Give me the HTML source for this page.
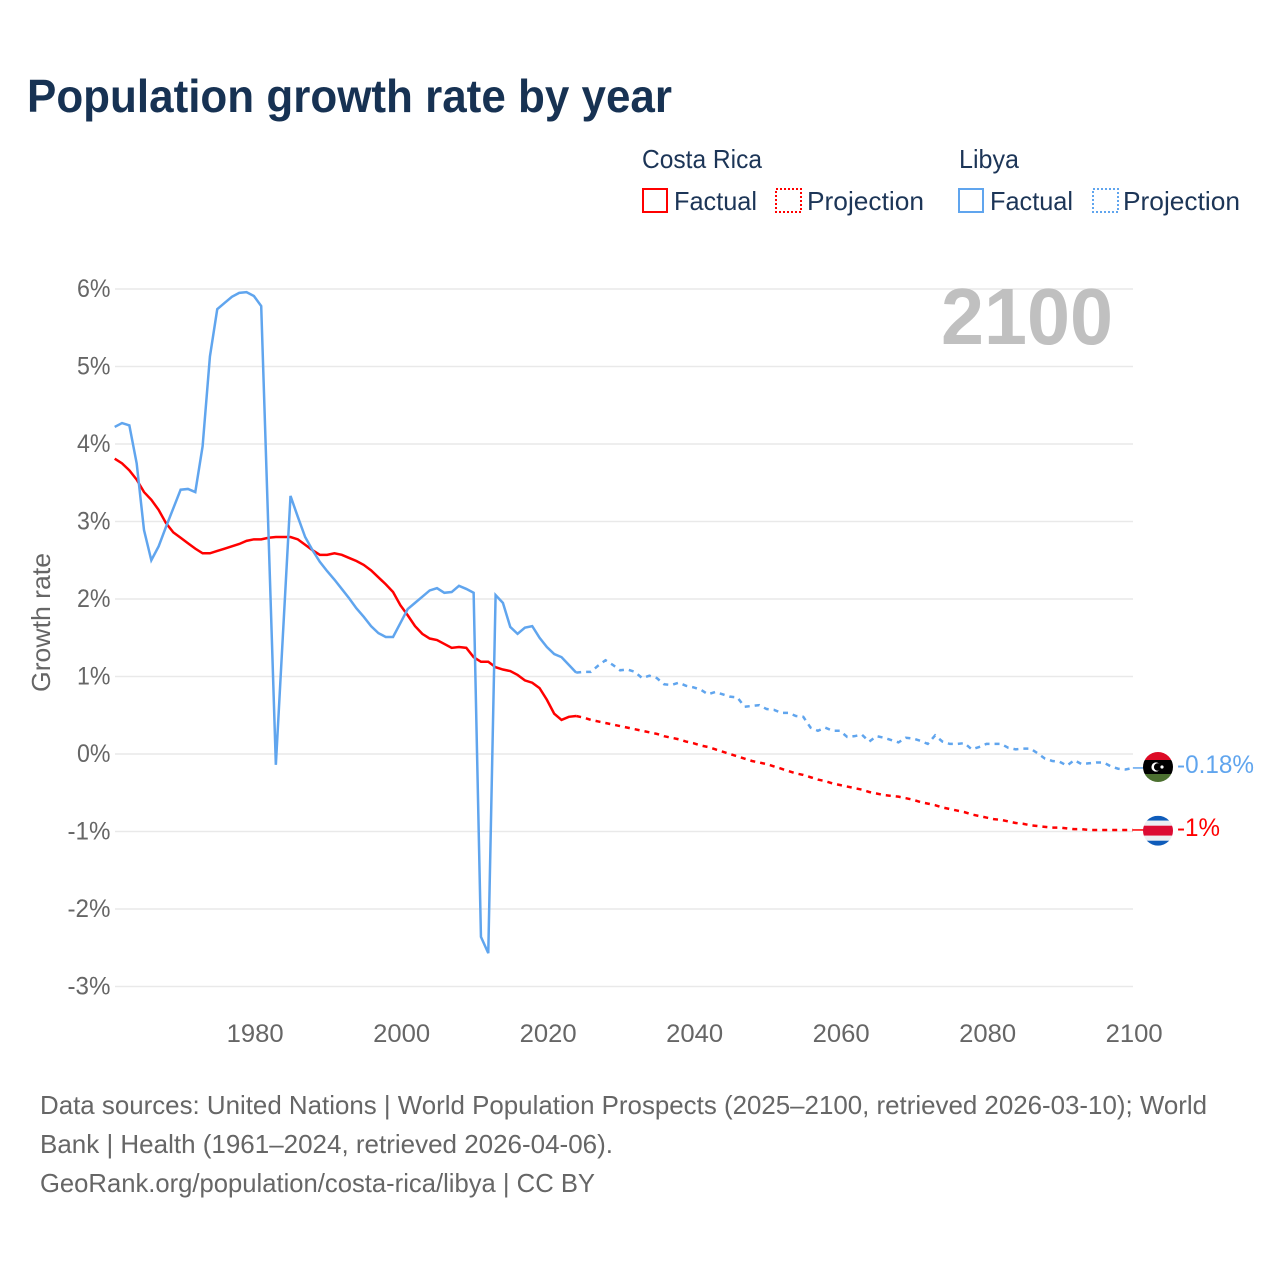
<!DOCTYPE html>
<html lang="en">
<head>
<meta charset="utf-8">
<title>Population growth rate by year</title>
<style>
html,body{margin:0;padding:0;background:#fff;}
svg{display:block;font-family:"Liberation Sans",sans-serif;}
</style>
</head>
<body>
<svg id="chart" width="1280" height="1280" viewBox="0 0 1280 1280" xmlns="http://www.w3.org/2000/svg">
  <rect width="1280" height="1280" fill="#fff"/>
  <text x="27" y="112" font-size="46" font-weight="700" fill="#173253" textLength="645" lengthAdjust="spacingAndGlyphs">Population growth rate by year</text>

  <g font-size="26" fill="#1c3557">
    <text x="642" y="168" textLength="120" lengthAdjust="spacingAndGlyphs">Costa Rica</text>
    <text x="959" y="168" textLength="60" lengthAdjust="spacingAndGlyphs">Libya</text>
    <g>
      <rect x="643" y="189" width="24" height="23" fill="none" stroke="#ff0000" stroke-width="2"/>
      <text x="674" y="210" textLength="83" lengthAdjust="spacingAndGlyphs">Factual</text>
    </g>
    <g>
      <rect x="776" y="189" width="25" height="23" fill="none" stroke="#ff0000" stroke-width="2" stroke-dasharray="2 2"/>
      <text x="807" y="210" textLength="117" lengthAdjust="spacingAndGlyphs">Projection</text>
    </g>
    <g>
      <rect x="959" y="189" width="24" height="23" fill="none" stroke="#60a5ee" stroke-width="2"/>
      <text x="990" y="210" textLength="83" lengthAdjust="spacingAndGlyphs">Factual</text>
    </g>
    <g>
      <rect x="1093" y="189" width="25" height="23" fill="none" stroke="#60a5ee" stroke-width="2" stroke-dasharray="2 2"/>
      <text x="1123" y="210" textLength="117" lengthAdjust="spacingAndGlyphs">Projection</text>
    </g>
  </g>

  <g id="grid"></g>
  <g id="yticks" font-size="25" fill="#666"></g>
  <g id="xticks" font-size="25" fill="#666"></g>

  <text x="1113" y="344" text-anchor="end" font-size="80" font-weight="700" fill="#c0c0c0" textLength="172" lengthAdjust="spacingAndGlyphs">2100</text>
  <text transform="translate(50 622.5) rotate(-90)" text-anchor="middle" font-size="26" fill="#666" textLength="139" lengthAdjust="spacingAndGlyphs">Growth rate</text>

  <g id="series"></g>

  <g>
    <defs>
      <clipPath id="clipLy"><circle cx="1158" cy="767" r="15"/></clipPath>
      <clipPath id="clipCr"><circle cx="1158" cy="830.7" r="15"/></clipPath>
    </defs>
    <g clip-path="url(#clipLy)">
      <rect x="1143" y="752" width="30" height="8" fill="#dc0a25"/>
      <rect x="1143" y="760" width="30" height="14" fill="#000"/>
      <rect x="1143" y="774" width="30" height="8" fill="#4c7030"/>
    </g>
    <circle cx="1156" cy="767" r="4.6" fill="#fff"/>
    <circle cx="1157.6" cy="767" r="3.7" fill="#000"/>
    <circle cx="1162" cy="767" r="1.6" fill="#fff"/>
  </g>
  <g clip-path="url(#clipCr)">
    <rect x="1143" y="815.7" width="30" height="5" fill="#0f5cba"/>
    <rect x="1143" y="820.7" width="30" height="5" fill="#eceef2"/>
    <rect x="1143" y="825.7" width="30" height="10" fill="#dc0b33"/>
    <rect x="1143" y="835.7" width="30" height="5" fill="#eceef2"/>
    <rect x="1143" y="840.7" width="30" height="5" fill="#0f5cba"/>
  </g>

  <text x="1177" y="773" font-size="25" fill="#60a5ee" textLength="77" lengthAdjust="spacingAndGlyphs">-0.18%</text>
  <text x="1177" y="836" font-size="25" fill="#ff0000" textLength="43" lengthAdjust="spacingAndGlyphs">-1%</text>

  <g font-size="26" fill="#666">
    <text x="40" y="1114" textLength="1167" lengthAdjust="spacingAndGlyphs">Data sources: United Nations | World Population Prospects (2025–2100, retrieved 2026-03-10); World</text>
    <text x="40" y="1153" textLength="573" lengthAdjust="spacingAndGlyphs">Bank | Health (1961–2024, retrieved 2026-04-06).</text>
    <text x="40" y="1192" textLength="555" lengthAdjust="spacingAndGlyphs">GeoRank.org/population/costa-rica/libya | CC BY</text>
  </g>
</svg>

<script>
const yTickValues = [6, 5, 4, 3, 2, 1, 0, -1, -2, -3];
const xTickYears = [1980, 2000, 2020, 2040, 2060, 2080, 2100];
const factualStartYear = 1961;
const projectionStartYear = 2024;

const costaRicaFactual = [3.81,3.75,3.66,3.54,3.38,3.28,3.15,2.98,2.86,2.79,
  2.72,2.65,2.59,2.59,2.62,2.65,2.68,2.71,2.75,2.77,
  2.77,2.79,2.80,2.80,2.80,2.77,2.70,2.63,2.57,2.57,
  2.59,2.57,2.53,2.49,2.44,2.37,2.28,2.19,2.09,1.92,
  1.79,1.65,1.55,1.49,1.47,1.42,1.37,1.38,1.37,1.25,
  1.19,1.19,1.12,1.09,1.07,1.02,0.95,0.92,0.85,0.70,
  0.52,0.44,0.48,0.49];

const costaRicaProjection = [0.49,0.47,0.44,0.42,0.40,0.38,0.36,0.34,0.32,0.30,0.28,
  0.26,0.23,0.21,0.19,0.16,0.14,0.11,0.09,0.06,0.03,
  0.00,-0.03,-0.06,-0.09,-0.11,-0.13,-0.16,-0.19,-0.22,-0.25,
  -0.27,-0.30,-0.33,-0.35,-0.38,-0.40,-0.42,-0.44,-0.46,-0.49,
  -0.51,-0.53,-0.54,-0.55,-0.57,-0.59,-0.62,-0.64,-0.66,-0.69,
  -0.71,-0.73,-0.75,-0.78,-0.80,-0.82,-0.84,-0.85,-0.87,-0.89,
  -0.90,-0.92,-0.93,-0.94,-0.95,-0.95,-0.96,-0.97,-0.97,-0.98,
  -0.98,-0.98,-0.98,-0.98,-0.98,-0.98];

const libyaFactual = [4.22,4.27,4.24,3.75,2.89,2.50,2.68,2.93,3.17,3.41,
  3.42,3.38,3.97,5.13,5.74,5.82,5.90,5.95,5.96,5.91,
  5.78,2.83,-0.14,1.60,3.33,3.06,2.80,2.63,2.48,2.36,
  2.25,2.13,2.01,1.88,1.77,1.65,1.56,1.51,1.51,1.69,
  1.87,1.95,2.03,2.11,2.14,2.08,2.09,2.17,2.13,2.08,
  -2.36,-2.57,2.05,1.95,1.64,1.55,1.63,1.65,1.50,1.38,
  1.29,1.25,1.15,1.05];

const libyaProjection = [1.05,1.06,1.06,1.14,1.21,1.15,1.08,1.09,1.06,0.98,1.01,
  0.98,0.90,0.89,0.92,0.88,0.86,0.83,0.77,0.80,0.77,
  0.74,0.73,0.61,0.62,0.63,0.58,0.57,0.53,0.53,0.49,
  0.48,0.34,0.30,0.34,0.30,0.30,0.22,0.23,0.25,0.16,
  0.23,0.21,0.18,0.15,0.21,0.20,0.17,0.13,0.24,0.16,
  0.13,0.13,0.14,0.06,0.09,0.13,0.13,0.13,0.08,0.06,
  0.07,0.07,0.01,-0.06,-0.09,-0.10,-0.15,-0.08,-0.13,-0.12,
  -0.11,-0.11,-0.16,-0.19,-0.20,-0.18];

const SVG_NS = 'http://www.w3.org/2000/svg';
function xScale(year) { return 114.7 + (year - 1961) * 7.325; }
function yScale(value) { return 754 - value * 77.5; }
function linePath(values, startYear) {
  return values.map(function (v, i) {
    return (i ? 'L' : 'M') + xScale(startYear + i).toFixed(2) + ' ' + yScale(v).toFixed(2);
  }).join(' ');
}

const gridGroup = document.getElementById('grid');
const yTickGroup = document.getElementById('yticks');
yTickValues.forEach(function (value) {
  const line = document.createElementNS(SVG_NS, 'line');
  
  
  line.setAttribute('x1', 115);
  line.setAttribute('x2', 1133);
  line.setAttribute('y1', yScale(value));
  line.setAttribute('y2', yScale(value));
  line.setAttribute('stroke', '#e9e9e9');
  line.setAttribute('stroke-width', '1.5');
  gridGroup.appendChild(line);

  const label = document.createElementNS(SVG_NS, 'text');
  
  
  label.setAttribute('x', 110.5);
  label.setAttribute('y', yScale(value) + 8);
  label.setAttribute('text-anchor', 'end');
  label.setAttribute('textLength', value < 0 ? '43' : '33.5');
  label.setAttribute('lengthAdjust', 'spacingAndGlyphs');
  label.textContent = value + '%';
  yTickGroup.appendChild(label);
});

const xTickGroup = document.getElementById('xticks');
xTickYears.forEach(function (year) {
  const label = document.createElementNS(SVG_NS, 'text');
  
  
  label.setAttribute('x', xScale(year) + 1.3);
  label.setAttribute('y', 1042);
  label.setAttribute('text-anchor', 'middle');
  label.setAttribute('textLength', '57');
  label.setAttribute('lengthAdjust', 'spacingAndGlyphs');
  label.textContent = String(year);
  xTickGroup.appendChild(label);
});

const seriesGroup = document.getElementById('series');

const crFactualLine = document.createElementNS(SVG_NS, 'path');


crFactualLine.setAttribute('d', linePath(costaRicaFactual, factualStartYear));
crFactualLine.setAttribute('fill', 'none');
crFactualLine.setAttribute('stroke', '#ff0000');
crFactualLine.setAttribute('stroke-width', '2.5');
seriesGroup.appendChild(crFactualLine);

const crProjectionLine = document.createElementNS(SVG_NS, 'path');


crProjectionLine.setAttribute('d', linePath(costaRicaProjection, projectionStartYear));
crProjectionLine.setAttribute('fill', 'none');
crProjectionLine.setAttribute('stroke', '#ff0000');
crProjectionLine.setAttribute('stroke-width', '2.5');
crProjectionLine.setAttribute('stroke-dasharray', '5 5');
seriesGroup.appendChild(crProjectionLine);

const crConnector = document.createElementNS(SVG_NS, 'line');


crConnector.setAttribute('x1', xScale(2100));
crConnector.setAttribute('x2', 1146);
crConnector.setAttribute('y1', yScale(costaRicaProjection[costaRicaProjection.length - 1]));
crConnector.setAttribute('y2', yScale(costaRicaProjection[costaRicaProjection.length - 1]));
crConnector.setAttribute('stroke', '#ff0000');
crConnector.setAttribute('stroke-width', '1.5');
seriesGroup.appendChild(crConnector);

const lyFactualLine = document.createElementNS(SVG_NS, 'path');


lyFactualLine.setAttribute('d', linePath(libyaFactual, factualStartYear));
lyFactualLine.setAttribute('fill', 'none');
lyFactualLine.setAttribute('stroke', '#60a5ee');
lyFactualLine.setAttribute('stroke-width', '2.5');
seriesGroup.appendChild(lyFactualLine);

const lyProjectionLine = document.createElementNS(SVG_NS, 'path');


lyProjectionLine.setAttribute('d', linePath(libyaProjection, projectionStartYear));
lyProjectionLine.setAttribute('fill', 'none');
lyProjectionLine.setAttribute('stroke', '#60a5ee');
lyProjectionLine.setAttribute('stroke-width', '2.5');
lyProjectionLine.setAttribute('stroke-dasharray', '5 5');
seriesGroup.appendChild(lyProjectionLine);

const lyConnector = document.createElementNS(SVG_NS, 'line');


lyConnector.setAttribute('x1', xScale(2100));
lyConnector.setAttribute('x2', 1146);
lyConnector.setAttribute('y1', yScale(libyaProjection[libyaProjection.length - 1]));
lyConnector.setAttribute('y2', yScale(libyaProjection[libyaProjection.length - 1]));
lyConnector.setAttribute('stroke', '#60a5ee');
lyConnector.setAttribute('stroke-width', '1.5');
seriesGroup.appendChild(lyConnector);
</script>
</body>
</html>
